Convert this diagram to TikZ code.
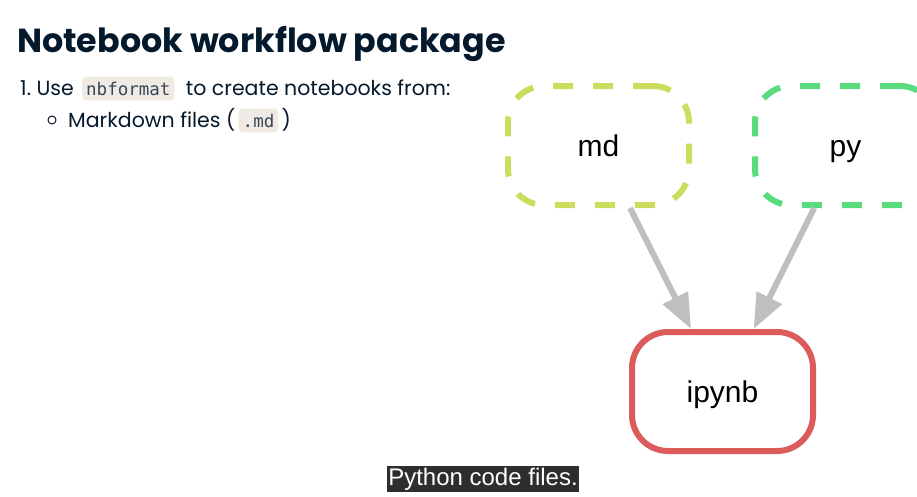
\documentclass[tikz,border=0pt]{standalone}
\usepackage{fontspec}
\setmainfont{Liberation Sans}
\newfontfamily\slidefont{Poppins}
\setmonofont{DejaVu Sans Mono}
\usetikzlibrary{arrows.meta,positioning}
\definecolor{dnavy}{HTML}{05192D}
\definecolor{dcode}{HTML}{EFEBE4}
\definecolor{mdlime}{HTML}{CCDC5C}
\definecolor{pygreen}{HTML}{5ADB7D}
\definecolor{nbred}{HTML}{DC5B5B}
\definecolor{egray}{HTML}{BFBFBF}
\definecolor{capbg}{HTML}{2E2E2E}
\tikzset{
  slide/.style={font=\slidefont\fontsize{20.5}{24}\selectfont,text=dnavy,inner sep=0pt},
  code/.style={fill=dcode,rounded corners=4pt,font=\ttfamily\fontsize{17.5}{20}\selectfont,text=dnavy!80,inner xsep=4pt,inner ysep=5pt},
  fmt/.style={rounded corners=36pt,line width=6pt,minimum width=181pt,minimum height=119pt,font=\fontsize{30}{36}\selectfont,text height=24pt,text depth=2pt,fill=white},
  dashfmt/.style={fmt,dash pattern=on 20pt off 20pt},
  earr/.style={-{Triangle[length=35pt,width=27pt]},line width=6pt,draw=egray},
}
\begin{document}
\begin{tikzpicture}[x=1pt,y=-1pt]
  \useasboundingbox (0,0) rectangle (917,496);
  \clip (0,0) rectangle (917,496);
  % --- slide text
  \node[slide,font=\slidefont\bfseries\fontsize{33.3}{38}\selectfont,anchor=base west] (title) at (17,52) {Notebook workflow package};
  \node[slide,anchor=base west] (one) at (20,95) {1.\ Use};
  \node[code,base right=8pt of one] (nbf) {nbformat};
  \node[slide,base right=11pt of nbf] (from) {to create notebooks from:};
  \node[draw=dnavy,circle,inner sep=0,minimum size=8pt,line width=1pt] (bul) at (52,120) {};
  \node[slide,anchor=base west] (mdf) at (68,127) {Markdown files (};
  \node[code,base right=3pt of mdf] (mdc) {.md};
  \node[slide,base right=3pt of mdc] (cls) {)};
  % --- graph
  \node[dashfmt,draw=mdlime] (md) at (598.5,145.5) {md};
  \node[dashfmt,draw=pygreen] (py) at (845.5,145.5) {py};
  \node[fmt,draw=nbred] (nb) at (722.5,391.5) {ipynb};
  \draw[earr] (md) -- (nb);
  \draw[earr] (py) -- (nb);
  % --- caption
  \node[fill=capbg,text=white,font=\fontsize{24}{26}\selectfont,inner xsep=1pt,inner ysep=2pt] (cap) at (483,479) {Python code files.};
\end{tikzpicture}
\end{document}
